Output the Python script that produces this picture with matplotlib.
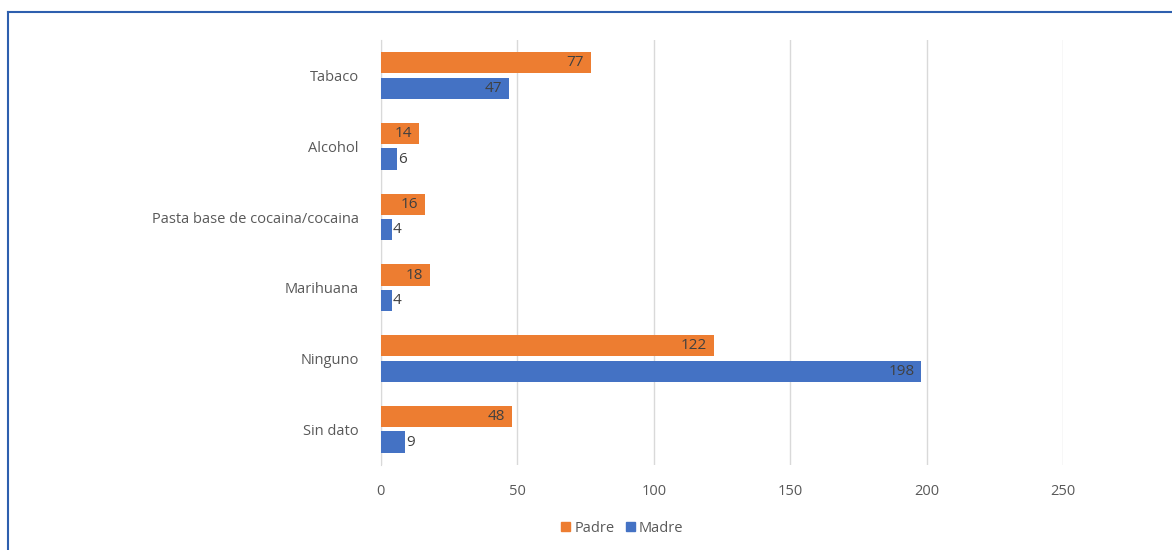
import matplotlib
matplotlib.use('Agg')
import matplotlib.pyplot as plt
from matplotlib.lines import Line2D
from matplotlib.patches import Patch
import numpy as np

categories = ['Tabaco', 'Alcohol', 'Pasta base de cocaina/cocaina',
              'Marihuana', 'Ninguno', 'Sin dato']
padre = [77, 14, 16, 18, 122, 48]
madre = [47, 6, 4, 4, 198, 9]
xticks = [0, 50, 100, 150, 200, 250]

ORANGE = '#ED7D31'
BLUE = '#4472C4'
TEXT = '#595959'

plt.rcParams['font.family'] = ['Open Sans', 'DejaVu Sans']

fig = plt.figure(figsize=(11.72, 5.5), dpi=100)
ax = fig.add_axes([0.325, 0.155, 0.582, 0.772])

y = np.arange(len(categories))
h = 0.3
off = 0.18
bp = ax.barh(y - off, padre, height=h, color=ORANGE, zorder=3)
bm = ax.barh(y + off, madre, height=h, color=BLUE, zorder=3)

# data labels: inside end for long bars, outside for short ones
for bars, vals in ((bp, padre), (bm, madre)):
    for rect, v in zip(bars, vals):
        yc = rect.get_y() + rect.get_height() / 2
        if v >= 10:
            ax.text(v - 2.5, yc, str(v), ha='right', va='center',
                    fontsize=11, color='#404040', zorder=4)
        else:
            ax.text(v + 0.3, yc, str(v), ha='left', va='center',
                    fontsize=11, color='#404040', zorder=4)

ax.set_xlim(0, 250)
ax.set_ylim(len(categories) - 0.5, -0.5)
ax.set_xticks(xticks)
ax.set_yticks(y)
ax.set_yticklabels(categories)
ax.tick_params(axis='both', length=0, labelsize=10.5, labelcolor=TEXT)
ax.tick_params(axis='x', pad=14)
ax.tick_params(axis='y', pad=16)
ax.xaxis.grid(True, color='#D9D9D9', linewidth=1, zorder=0)
for side in ('top', 'right', 'bottom'):
    ax.spines[side].set_visible(False)
ax.spines['left'].set_color('#D9D9D9')

handles = [Patch(color=ORANGE, label='Padre'), Patch(color=BLUE, label='Madre')]
fig.legend(handles=handles, loc='center', bbox_to_anchor=(0.531, 0.04),
           ncol=2, frameon=False, fontsize=10.5, labelcolor=TEXT,
           handlelength=0.6, handleheight=0.6, handletextpad=0.3,
           columnspacing=0.8)

# blue frame (top and left edges)
fig.add_artist(Line2D([8 / 1172, 1], [1 - 12 / 550, 1 - 12 / 550],
                      color='#2E5FAE', linewidth=1.5))
fig.add_artist(Line2D([8 / 1172, 8 / 1172], [0, 1 - 12 / 550],
                      color='#2E5FAE', linewidth=1.5))

fig.savefig('out.png', dpi=100)
